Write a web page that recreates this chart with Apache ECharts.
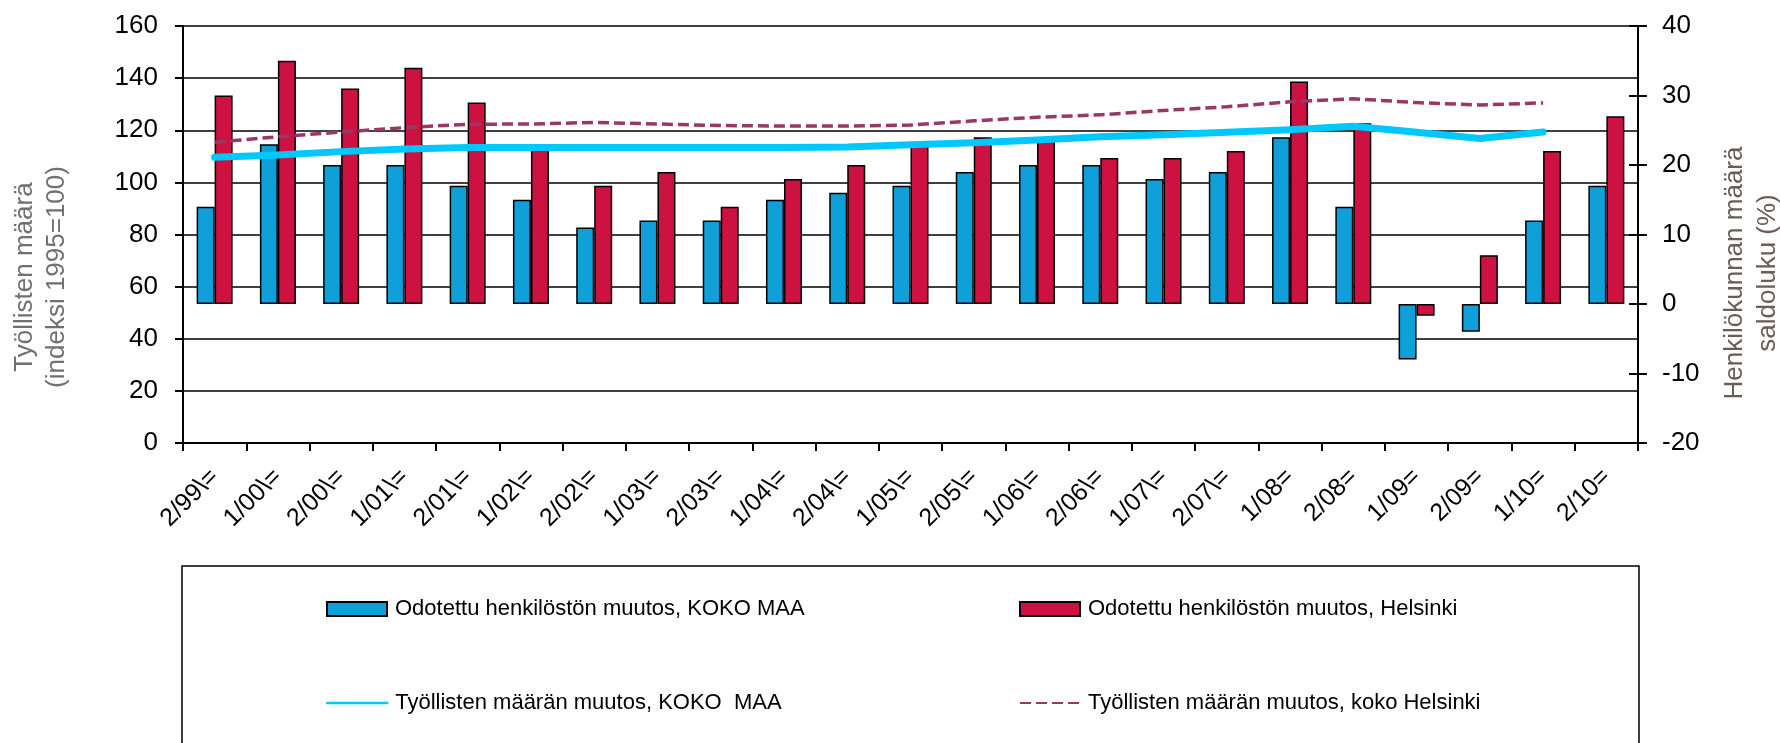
<!DOCTYPE html>
<html><head><meta charset="utf-8">
<script src="https://cdn.jsdelivr.net/npm/echarts@6/dist/echarts.min.js"></script>
<style>html,body{margin:0;padding:0;background:#fff}#c{width:1780px;height:743px}</style>
</head><body><div id="c"></div>
<script>
const categories = ['2/99\\=', '1/00\\=', '2/00\\=', '1/01\\=', '2/01\\=', '1/02\\=', '2/02\\=', '1/03\\=', '2/03\\=', '1/04\\=', '2/04\\=', '1/05\\=', '2/05\\=', '1/06\\=', '2/06\\=', '1/07\\=', '2/07\\=', '1/08=', '2/08=', '1/09=', '2/09=', '1/10=', '2/10='];
const kokoMaaBars = [14, 23, 20, 20, 17, 15, 11, 12, 12, 15, 16, 17, 19, 20, 20, 18, 19, 24, 14, -8, -4, 12, 17];
const helsinkiBars = [30, 35, 31, 34, 29, 22.5, 17, 19, 14, 18, 20, 23, 24, 24, 21, 21, 22, 32, 26, -1.7, 7, 22, 27];
const kokoMaaLine = [109.6, 110.5, 111.8, 112.8, 113.4, 113.4, 113.4, 113.4, 113.4, 113.4, 113.6, 114.4, 115.2, 116.3, 117.5, 118.3, 119.2, 120.2, 121.5, 119.2, 116.8, 119.3, null];
const helsinkiLine = [115.4, 117.5, 119.3, 121, 122.3, 122.4, 123, 122.4, 121.8, 121.6, 121.6, 122, 123.6, 125, 125.9, 127.6, 129, 130.9, 132.1, 130.6, 129.7, 130.5, null];
const seriesNames = ['Odotettu henkilöstön muutos, KOKO MAA', 'Odotettu henkilöstön muutos, Helsinki', 'Työllisten määrän muutos, KOKO  MAA', 'Työllisten määrän muutos, koko Helsinki'];
const leftAxis = {min: 0, max: 160, interval: 20};
const rightAxis = {min: -20, max: 40, interval: 10};
const leftTitle = 'Työllisten määrä\n(indeksi 1995=100)';
const rightTitle = 'Henkilökunnan määrä\nsaldoluku (%)';

const FONT = '"Liberation Sans", Arial, sans-serif';
const chart = echarts.init(document.getElementById('c'), null, {renderer: 'canvas'});
const legendCommon = {
  orient: 'horizontal', padding: 0, itemWidth: 60, itemHeight: 14, itemGap: 0,
  selectedMode: false,
  textStyle: {fontSize: 22, color: '#000', fontFamily: FONT, padding: [0, 0, 0, 3]}
};
chart.setOption({
  animation: false,
  backgroundColor: '#fff',
  textStyle: {fontFamily: FONT},
  grid: {left: 183, right: 142, top: 26, bottom: 300, containLabel: false},
  xAxis: {
    type: 'category', data: categories, boundaryGap: true,
    axisLine: {onZero: false, lineStyle: {color: '#000', width: 2}},
    axisTick: {show: true, length: 8, lineStyle: {color: '#000', width: 2}},
    axisLabel: {rotate: 45, fontSize: 25, color: '#000', margin: 30, interval: 0, fontFamily: FONT},
    splitLine: {show: false}
  },
  yAxis: [
    {type: 'value', position: 'left', min: leftAxis.min, max: leftAxis.max, interval: leftAxis.interval,
     axisLine: {show: true, lineStyle: {color: '#000', width: 2}},
     axisTick: {show: true, length: 8, lineStyle: {color: '#000', width: 2}},
     axisLabel: {fontSize: 26, color: '#000', margin: 25, fontFamily: FONT},
     splitLine: {show: true, lineStyle: {color: '#000', width: 1.5}}},
    {type: 'value', position: 'right', min: rightAxis.min, max: rightAxis.max, interval: rightAxis.interval,
     axisLine: {show: true, lineStyle: {color: '#000', width: 2}},
     axisTick: {show: true, length: 9, lineStyle: {color: '#000', width: 2}},
     axisLabel: {fontSize: 26, color: '#000', margin: 24, fontFamily: FONT},
     splitLine: {show: false}},
    {type: 'value', position: 'right', min: rightAxis.min, max: rightAxis.max, interval: rightAxis.interval,
     axisLine: {show: false},
     axisTick: {show: true, inside: true, length: 9, lineStyle: {color: '#000', width: 2}},
     axisLabel: {show: false},
     splitLine: {show: false}}
  ],
  legend: [
    Object.assign({}, legendCommon, {data: [{name: seriesNames[0], icon: 'rect'}], left: 326, top: 598}),
    Object.assign({}, legendCommon, {data: [{name: seriesNames[1], icon: 'rect'}], left: 1019, top: 598}),
    Object.assign({}, legendCommon, {data: [{name: seriesNames[2], itemStyle: {opacity: 0}}], left: 326, top: 692, lineStyle: {width: 2.5}}),
    Object.assign({}, legendCommon, {data: [{name: seriesNames[3], itemStyle: {opacity: 0}}], left: 1019, top: 692, lineStyle: {width: 2}})
  ],
  series: [
    {name: seriesNames[0], type: 'bar', yAxisIndex: 1, data: kokoMaaBars, barWidth: 18, barGap: '0%',
     itemStyle: {color: '#0f9fd9', borderColor: '#000', borderWidth: 1.5}},
    {name: seriesNames[1], type: 'bar', yAxisIndex: 1, data: helsinkiBars, barWidth: 18, barGap: '0%',
     itemStyle: {color: '#cd1141', borderColor: '#000', borderWidth: 1.5}},
    {name: seriesNames[2], type: 'line', yAxisIndex: 0, data: kokoMaaLine, showSymbol: false, symbol: 'none',
     connectNulls: false, z: 5,
     lineStyle: {color: '#00c8fb', width: 7, cap: 'round', join: 'round'}, itemStyle: {color: '#00c8fb'}},
    {name: seriesNames[3], type: 'line', yAxisIndex: 0, data: helsinkiLine, showSymbol: false, symbol: 'none',
     connectNulls: false, z: 6,
     lineStyle: {color: '#9a3766', width: 3.5, type: [11, 5]}, itemStyle: {color: '#9a3766'}}
  ],
  graphic: [
    {type: 'text', x: 41, y: 277, rotation: Math.PI / 2, silent: true,
     style: {text: leftTitle, font: '26px ' + FONT, fill: '#707070', lineHeight: 32,
             align: 'center', verticalAlign: 'middle', textAlign: 'center', textVerticalAlign: 'middle'}},
    {type: 'text', x: 1751, y: 273, rotation: Math.PI / 2, silent: true,
     style: {text: rightTitle, font: '26px ' + FONT, fill: '#6a5d58', lineHeight: 33,
             align: 'center', verticalAlign: 'middle', textAlign: 'center', textVerticalAlign: 'middle'}},
    {type: 'rect', silent: true, shape: {x: 182, y: 566, width: 1457, height: 220},
     style: {fill: 'none', stroke: '#000', lineWidth: 1.5}}
  ]
});
</script>
</body></html>
